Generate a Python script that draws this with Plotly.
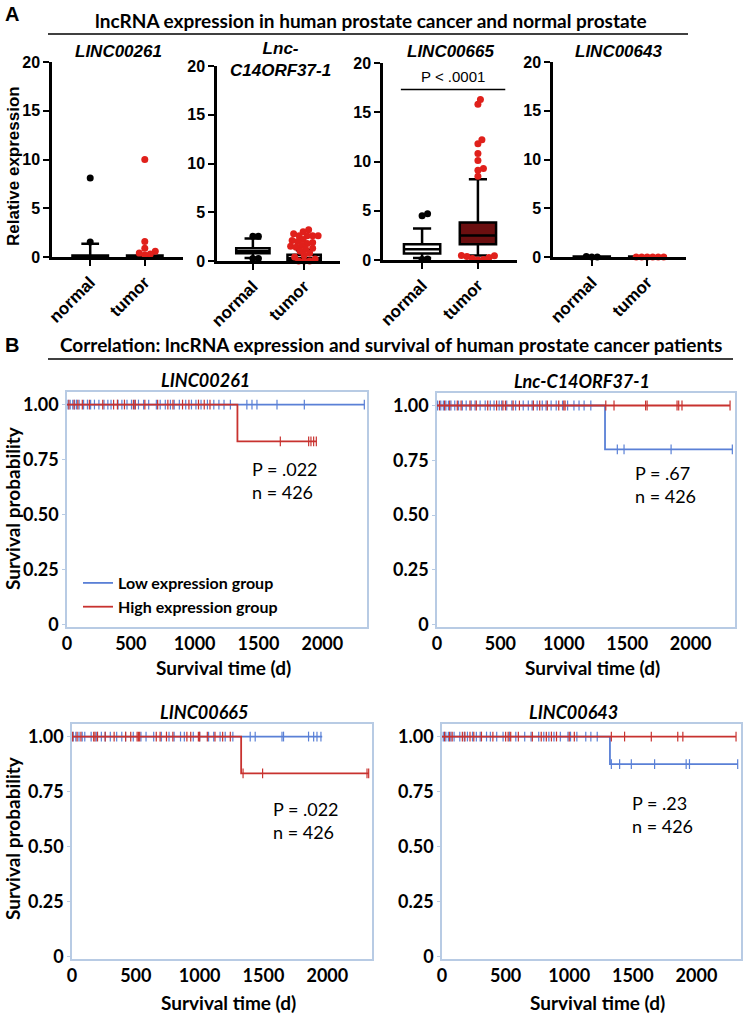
import plotly.graph_objects as go

W, H = 747, 1013

# ---------------- panel A data (relative expression) ----------------
genes = ["LINC00261", "Lnc-<br>C14ORF37-1", "LINC00665", "LINC00643"]
groups = ["normal", "tumor"]

# box stats per gene: [normal, tumor]
q1 = [[0.0, 0.0], [0.8, 0.05], [0.65, 1.6], [0.0, 0.0]]
med = [[0.05, 0.05], [1.0, 0.3], [1.1, 2.5], [0.0, 0.0]]
q3 = [[0.15, 0.15], [1.3, 0.65], [1.6, 3.8], [0.05, 0.05]]
lo = [[0.0, 0.0], [0.3, 0.0], [0.2, 0.45], [0.0, 0.0]]
hi = [[1.35, 0.2], [2.3, 1.1], [3.2, 8.2], [0.05, 0.05]]

# outlier points per gene: [normal, tumor]
pts = [
    [[8.1, 1.55],
     [10.0, 1.6, 0.9, 0.6, 0.4, 0.3, 0.2]],
    [[2.55, 2.55, 0.25, 0.25],
     [3.2, 3.0, 2.8, 2.6, 2.6, 2.6, 2.6, 2.2, 2.1, 2.0, 1.9, 1.8, 1.6, 1.5, 1.4,
      1.3, 1.2, 1.0, 0.8, 0.6, 0.4, 0.2, 0.0, 0.0, 0.0]],
    [[4.7, 4.5, 0.1, 0.05],
     [16.3, 15.8, 12.2, 11.8, 10.8, 10.1, 9.3, 9.1, 8.5,
      0.45, 0.42, 0.35, 0.25, 0.15, 0.05, 0.0]],
    [[0.0, 0.0, 0.05],
     [0.0, 0.0, 0.0, 0.0, 0.0, 0.0]],
]
box_fill = [["white", "white"], ["white", "white"], ["white", "#6b0f10"], ["white", "white"]]

# ---------------- panel B data (Kaplan-Meier) ----------------
km_genes = ["LINC00261", "Lnc-C14ORF37-1", "LINC00665", "LINC00643"]
km_p = ["P = .022", "P = .67", "P = .022", "P = .23"]
low_t = [[0, 2330], [0, 1325, 2330], [0, 1960], [0, 1320, 2325]]
low_s = [[1, 1], [1, 0.80, 0.80], [1, 1], [1, 0.875, 0.875]]
high_t = [[0, 1335, 1955], [0, 2310], [0, 1325, 2325], [0, 2310]]
high_s = [[1, 0.833, 0.833], [1, 1], [1, 0.833, 0.833], [1, 1]]

low_cens = [
    [8, 25, 45, 60, 75, 95, 130, 160, 185, 215, 250, 290, 320, 345, 400, 430, 470, 505, 530, 560,
     600, 640, 700, 730, 770, 810, 840, 880, 930, 975, 1010, 1050, 1100, 1150, 1190, 1230, 1280,
     1409, 1449, 1488, 1645, 1859, 2329],
    [5, 30, 50, 70, 90, 110, 140, 170, 200, 230, 270, 300, 340, 380, 420, 450, 490, 510, 550, 590,
     620, 680, 720, 750, 790, 830, 860, 900, 940, 990, 1030, 1080, 1120, 1160, 1213,
     1422, 1475, 1846, 2329],
    [10, 30, 55, 80, 100, 150, 190, 230, 260, 300, 350, 390, 420, 480, 540, 580, 640, 700, 760, 800,
     850, 880, 950, 1000, 1070, 1110, 1160, 1200, 1260, 1396, 1435, 1645, 1657, 1853, 1893, 1919, 1950],
    [10, 30, 50, 70, 95, 140, 175, 200, 240, 270, 300, 350, 380, 430, 480, 530, 580, 650, 700, 760,
     800, 840, 880, 930, 990, 1010, 1060, 1130, 1170, 1220, 1331, 1396, 1488, 1671, 1919, 1945, 2324],
]
high_cens = [
    [15, 55, 85, 120, 175, 280, 365, 395, 450, 520, 535, 610, 710, 790, 830, 905, 955, 1030, 1075, 1120,
     1671, 1893, 1911, 1932, 1953],
    [20, 60, 100, 160, 190, 260, 310, 400, 470, 520, 540, 600, 650, 760, 810, 870, 960, 1000, 1010,
     1331, 1396, 1645, 1657, 1893, 1906, 1932, 2311],
    [5, 40, 70, 170, 180, 200, 260, 330, 420, 460, 510, 520, 530, 660, 690, 740, 790, 900, 930, 990,
     1000, 1060, 1120, 1180, 1240, 1340, 1493, 2311, 2324],
    [20, 60, 80, 160, 180, 220, 250, 310, 400, 500, 520, 540, 600, 710, 780, 820, 860, 900, 1000, 1040,
     1331, 1435, 1645, 1853, 1893, 2311],
]

BLUE = "#5a80d6"
RED = "#c8322f"
FRAME = "#b8cbe4"
ARIAL = "Liberation Sans"
CAL = "Lato"


def px(x):
    return x / W


def py(y):
    return 1 - y / H


def label(x, y, text, font, **kw):
    # paper-pixel positioned text, anchored explicitly
    opts = dict(xanchor="center", yanchor="middle")
    opts.update(kw)
    fig.add_annotation(x=px(x), y=py(y), xref="paper", yref="paper", text=text,
                       showarrow=False, font=font, **opts)


def swarm(vals, ypx, xpx, d=5.5):
    # simple deterministic beeswarm, returns x offsets in data units
    placed = []
    out = [0.0] * len(vals)
    for i in sorted(range(len(vals)), key=lambda k: vals[k]):
        y = vals[i] * ypx
        best = 0.0
        for k in range(200):
            cands = [0.0] if k == 0 else [k * 0.5, -k * 0.5]
            hit = None
            for s in cands:
                if all((s - a) ** 2 + (y - b) ** 2 >= d * d for a, b in placed):
                    hit = s
                    break
            if hit is not None:
                best = hit
                break
        placed.append((best, y))
        out[i] = best / xpx
    return out


def step_at(ts, ss, t):
    v = ss[0]
    for a, b in zip(ts, ss):
        if t >= a:
            v = b
    return v


fig = go.Figure()

# panel A axes geometry (pixels): x0, x1, ytop(=20), ybottom(=0)
a_geom = [(52, 183, 62, 257), (217, 340, 66, 261), (383, 517, 63, 260), (553, 686, 62, 257)]
a_title = [(118, 52), (280, 60), (450, 52), (618, 52)]
xr = [-0.7, 1.7]

for g in range(4):
    ax = "" if g == 0 else str(g + 1)
    x0, x1, yt, yb = a_geom[g]
    xpx = (x1 - x0) / (xr[1] - xr[0])
    ypx = (yb - yt) / 20
    for j in range(2):
        vals = pts[g][j]
        offs = swarm(vals, ypx, xpx)
        fig.add_trace(go.Scatter(
            x=[j + o for o in offs], y=vals, mode="markers",
            marker=dict(color="black" if j == 0 else "#e0201b", size=7, line=dict(width=0)),
            cliponaxis=False, showlegend=False, hoverinfo="skip",
            xaxis="x" + ax, yaxis="y" + ax))
    for j in range(2):
        fig.add_trace(go.Box(
            x=[j], q1=[q1[g][j]], median=[med[g][j]], q3=[q3[g][j]],
            lowerfence=[lo[g][j]], upperfence=[hi[g][j]],
            width=0.65, whiskerwidth=0.5, boxpoints=False,
            fillcolor=box_fill[g][j], line=dict(color="black", width=2.5),
            showlegend=False, hoverinfo="skip", xaxis="x" + ax, yaxis="y" + ax))
    fig.layout["xaxis" + ax] = dict(
        domain=[px(x0), px(x1)], range=xr, anchor="y" + ax, automargin=False,
        tickvals=[0, 1], ticktext=groups, tickangle=-45,
        showline=True, linecolor="black", linewidth=2.5,
        ticks="outside", ticklen=6, tickwidth=2, tickcolor="black",
        showgrid=False, zeroline=False,
        tickfont=dict(family=ARIAL, size=17, color="black", weight="bold"))
    fig.layout["yaxis" + ax] = dict(
        domain=[py(yb), py(yt)], range=[0, 20], anchor="x" + ax, automargin=False,
        tickvals=[0, 5, 10, 15, 20],
        showline=True, linecolor="black", linewidth=2.5,
        ticks="outside", ticklen=6, tickwidth=2, tickcolor="black",
        showgrid=False, zeroline=False,
        tickfont=dict(family=ARIAL, size=16, color="black", weight="bold"))
    label(a_title[g][0], a_title[g][1], "<b><i>" + genes[g] + "</i></b>",
          dict(family=ARIAL, size=17, color="black"))

# significance bar on LINC00665
fig.add_shape(type="line", xref="x3", yref="y3", x0=-0.38, x1=1.49, y0=17.3, y1=17.3,
              line=dict(color="black", width=1.5))
fig.add_annotation(x=0.55, y=17.6, xref="x3", yref="y3", xanchor="center", yanchor="bottom",
                   text="P &lt; .0001", showarrow=False,
                   font=dict(family=ARIAL, size=15, color="black"))

label(13, 166, "<b>Relative expression</b>", dict(family=ARIAL, size=17, color="black"),
      textangle=-90)

# panel B axes geometry (pixels): x0, x1, ytop, ybottom
b_geom = [(67, 367, 392, 627), (437, 735, 393, 627), (72, 372, 724, 959), (442, 741, 724, 959)]
title_x = [205, 582, 204, 573]
title_y = [380, 381, 712, 712]
p_xy = [(250, 480), (633, 484), (271, 820), (630, 814)]
xlab_y = [667, 667, 1002, 1002]

for k in range(4):
    ax = str(k + 5)
    x0, x1, yt, yb = b_geom[k]
    for ts, ss, cens, col, name in [
        (low_t[k], low_s[k], low_cens[k], BLUE, "Low expression group"),
        (high_t[k], high_s[k], high_cens[k], RED, "High expression group"),
    ]:
        fig.add_trace(go.Scatter(
            x=ts, y=ss, mode="lines", line=dict(color=col, width=1.8, shape="hv"),
            name=name, showlegend=(k == 0), hoverinfo="skip",
            xaxis="x" + ax, yaxis="y" + ax))
        fig.add_trace(go.Scatter(
            x=cens, y=[step_at(ts, ss, t) for t in cens], mode="markers",
            marker=dict(symbol="line-ns", size=7, line=dict(color=col, width=1.2)),
            showlegend=False, hoverinfo="skip", cliponaxis=False,
            xaxis="x" + ax, yaxis="y" + ax))
    fig.layout["xaxis" + ax] = dict(
        domain=[px(x0), px(x1)], range=[0, 2350], anchor="y" + ax, automargin=False,
        tickvals=[0, 500, 1000, 1500, 2000],
        showline=True, mirror=True, linecolor=FRAME, linewidth=1.5,
        ticks="", showgrid=False, zeroline=False,
        tickfont=dict(family=CAL, size=18, color="black", weight="bold"))
    fig.layout["yaxis" + ax] = dict(
        domain=[py(yb), py(yt)], range=[-0.01, 1.057], anchor="x" + ax, automargin=False,
        tickvals=[0, 0.25, 0.5, 0.75, 1.0], ticktext=["0", "0.25", "0.50", "0.75", "1.00"],
        showline=True, mirror=True, linecolor=FRAME, linewidth=1.5,
        ticks="outside", ticklen=3, tickcolor=FRAME, showgrid=False, zeroline=False,
        tickfont=dict(family=CAL, size=18, color="black", weight="bold"))
    label(title_x[k], title_y[k], "<b><i>" + km_genes[k] + "</i></b>",
          dict(family=CAL, size=18, color="black"))
    label(p_xy[k][0], p_xy[k][1], km_p[k] + "<br>n = 426",
          dict(family=CAL, size=18, color="black"), xanchor="left", align="left")
    label((x0 + x1) / 2 + 6, xlab_y[k], "<b>Survival time (d)</b>",
          dict(family=CAL, size=19, color="black"))

for yc in [508, 838]:
    label(12, yc, "<b>Survival probability</b>", dict(family=CAL, size=19, color="black"),
          textangle=-90)

# panel headers
label(12, 14, "<b>A</b>", dict(family=ARIAL, size=20, color="black"))
label(12, 345, "<b>B</b>", dict(family=ARIAL, size=20, color="black"))
label(371, 21, "<b>lncRNA expression in human prostate cancer and normal prostate</b>",
      dict(family=CAL, size=19, color="black"))
label(391, 345, "<b>Correlation: lncRNA expression and survival of human prostate cancer patients</b>",
      dict(family=CAL, size=19, color="black"))
fig.add_shape(type="line", xref="paper", yref="paper", x0=px(48), x1=px(688), y0=py(34), y1=py(34),
              line=dict(color="black", width=1.5))
fig.add_shape(type="line", xref="paper", yref="paper", x0=px(48), x1=px(733), y0=py(359), y1=py(359),
              line=dict(color="black", width=1.5))

fig.update_layout(
    width=W, height=H, margin=dict(l=0, r=0, t=0, b=0, autoexpand=False),
    template="none",
    paper_bgcolor="white", plot_bgcolor="white",
    legend=dict(x=px(78), y=py(566), xanchor="left", yanchor="top", bgcolor="rgba(0,0,0,0)",
                itemwidth=30, tracegroupgap=0,
                font=dict(family=CAL, size=16, color="black", weight="bold")),
)

fig.write_html("out.html", config={"displayModeBar": False},
               post_script="document.body.style.margin='0px';")
